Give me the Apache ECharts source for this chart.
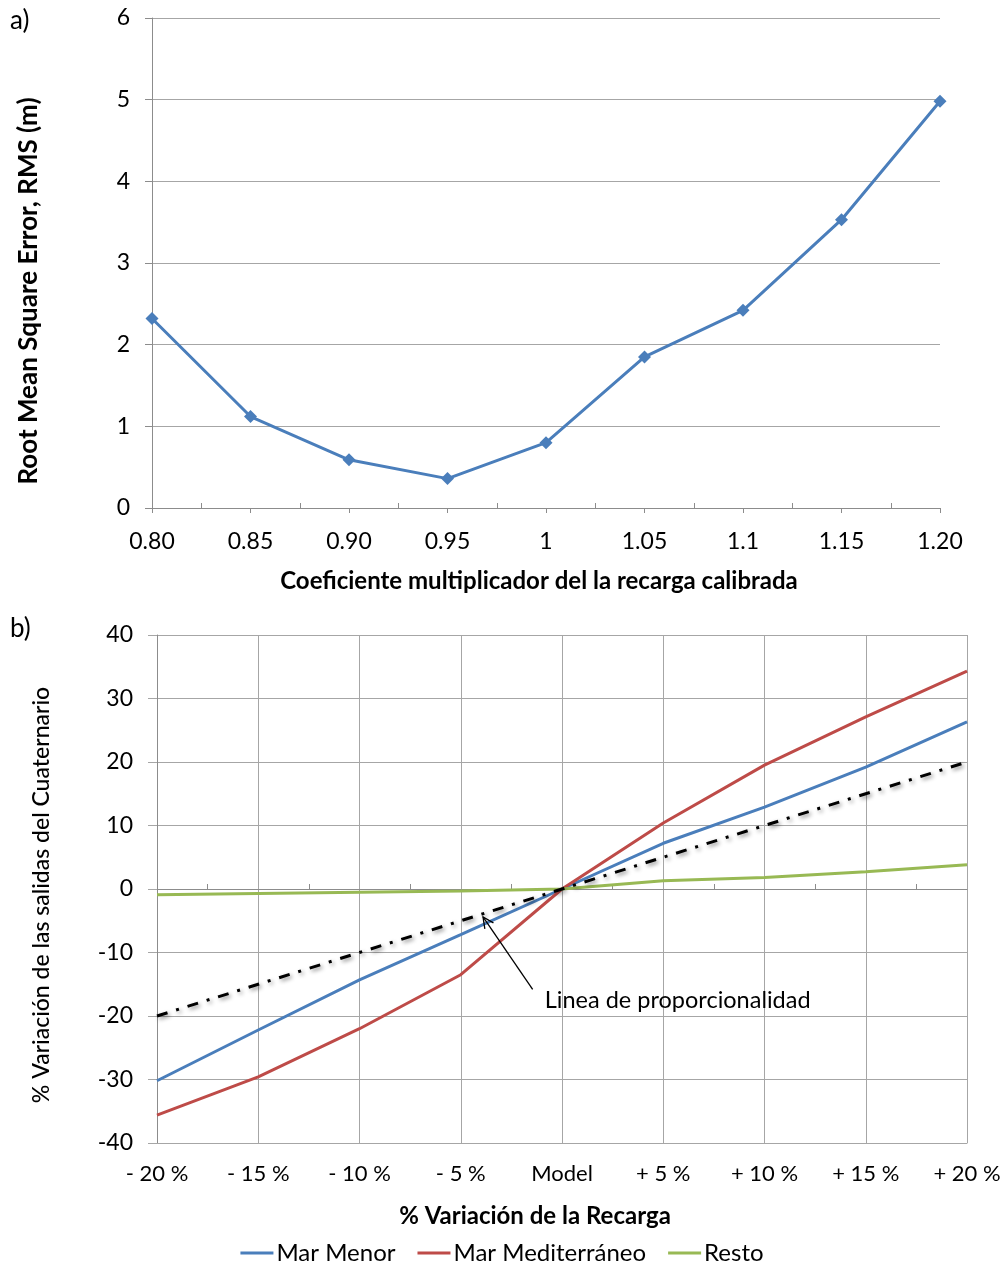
<!DOCTYPE html>
<html><head><meta charset="utf-8">
<script src="https://cdn.jsdelivr.net/npm/echarts@6/dist/echarts.min.js"></script>
<style>html,body{margin:0;padding:0;background:#fff}#c{width:1004px;height:1263px}</style>
</head><body><div id="c"></div>
<script>
// ---- panel a) ----
const coefCategories = ['0.80','0.85','0.90','0.95','1','1.05','1.1','1.15','1.20'];
const rmsValues = [2.32, 1.12, 0.59, 0.36, 0.80, 1.85, 2.42, 3.53, 4.98];
const rmsTicks = [0,1,2,3,4,5,6];
// ---- panel b) ----
const recargaCategories = ['- 20 %','- 15 %','- 10 %','- 5 %','Model','+ 5 %','+ 10 %','+ 15 %','+ 20 %'];
const marMenor = [-30.2, -22.2, -14.3, -7.2, 0, 7.2, 12.9, 19.2, 26.3];
const marMediterraneo = [-35.6, -29.6, -22.0, -13.5, 0, 10.4, 19.5, 27.1, 34.3];
const resto = [-0.9, -0.7, -0.5, -0.3, 0, 1.3, 1.8, 2.7, 3.8];
const proporcionalidad = [-20, -15, -10, -5, 0, 5, 10, 15, 20];
const salidasTicks = [-40,-30,-20,-10,0,10,20,30,40];

const FONT = 'Lato';
const GRID = '#a6a6a6';
const AXIS = '#8c8c8c';
const BLUE = '#4a7ebb', RED = '#be4b48', GREEN = '#98b954';

const chart = echarts.init(document.getElementById('c'), null, {renderer:'canvas'});
const opt = {
  animation:false,
  textStyle:{fontFamily:FONT},
  grid:[
    {left:152, right:64, top:18, height:490, containLabel:false},
    {left:157, right:37, top:635, height:508, containLabel:false}
  ],
  xAxis:[
    {gridIndex:0, type:'category', data:coefCategories, boundaryGap:false,
     axisLine:{lineStyle:{color:AXIS, width:1}},
     axisTick:{show:true, length:5, lineStyle:{color:AXIS}},
     axisLabel:{fontSize:23, color:'#000', margin:22, fontFamily:FONT},
     splitLine:{show:false},
     name:'Coeficiente multiplicador del la recarga calibrada', nameLocation:'middle', nameGap:61,
     nameTextStyle:{fontSize:24, fontWeight:'bold', color:'#000', fontFamily:FONT, padding:[0,14,0,0]}},
    {gridIndex:0, type:'value', min:0, max:coefCategories.length-1, interval:1, position:'bottom',
     axisLine:{show:false}, axisLabel:{show:false}, splitLine:{show:false},
     axisTick:{show:false, inside:true},
     minorTick:{show:true, splitNumber:2, length:5, lineStyle:{color:AXIS}}},
    {gridIndex:1, type:'category', data:recargaCategories, boundaryGap:false,
     axisLine:{onZero:false, lineStyle:{color:GRID}},
     axisTick:{show:false},
     axisLabel:{fontSize:22, color:'#000', margin:20, fontFamily:FONT},
     splitLine:{show:true, lineStyle:{color:GRID}},
     name:'% Variación de la Recarga', nameLocation:'middle', nameGap:61,
     nameTextStyle:{fontSize:24, fontWeight:'bold', color:'#000', fontFamily:FONT, padding:[0,54,0,0]}},
    {gridIndex:1, type:'value', min:0, max:recargaCategories.length-1, interval:1, position:'bottom',
     axisLine:{show:true, onZero:true, lineStyle:{color:AXIS}}, axisLabel:{show:false}, splitLine:{show:false},
     axisTick:{show:false, inside:true},
     minorTick:{show:true, splitNumber:2, length:5, lineStyle:{color:AXIS}}}
  ],
  yAxis:[
    {gridIndex:0, type:'value', min:rmsTicks[0], max:rmsTicks[rmsTicks.length-1], interval:1,
     axisLine:{show:true, lineStyle:{color:AXIS}},
     axisTick:{show:true, length:7, lineStyle:{color:AXIS}},
     axisLabel:{fontSize:23, color:'#000', margin:22, fontFamily:FONT},
     splitLine:{show:true, lineStyle:{color:GRID}},
     name:'Root Mean Square Error, RMS (m)', nameLocation:'middle', nameGap:110,
     nameTextStyle:{fontSize:26, fontWeight:'bold', color:'#000', fontFamily:FONT, padding:[0,56,0,0]}},
    {gridIndex:1, type:'value', min:salidasTicks[0], max:salidasTicks[salidasTicks.length-1], interval:10,
     axisLine:{show:true, lineStyle:{color:AXIS}},
     axisTick:{show:true, length:9, lineStyle:{color:GRID}},
     axisLabel:{fontSize:23, color:'#000', margin:24, fontFamily:FONT},
     splitLine:{show:true, lineStyle:{color:GRID}},
     name:'% Variación de las salidas del Cuaternario', nameLocation:'middle', nameGap:104,
     nameTextStyle:{fontSize:23, fontWeight:'500', color:'#000', fontFamily:FONT, padding:[0,12,0,0]}}
  ],
  legend:{
    data:['Mar Menor','Mar Mediterráneo','Resto'],
    top:1236, left:'center', itemWidth:33, itemHeight:3, itemGap:22, icon:'rect',
    textStyle:{fontSize:24, color:'#000', fontFamily:FONT, padding:[0,0,0,-2]}
  },
  series:[
    {name:'RMS', type:'line', xAxisIndex:0, yAxisIndex:0, data:rmsValues,
     symbol:'diamond', symbolSize:13, lineStyle:{color:BLUE, width:3},
     itemStyle:{color:BLUE}},
    {name:'Mar Menor', type:'line', xAxisIndex:2, yAxisIndex:1, data:marMenor,
     showSymbol:false, lineStyle:{color:BLUE, width:3}, itemStyle:{color:BLUE}},
    {name:'Mar Mediterráneo', type:'line', xAxisIndex:2, yAxisIndex:1, data:marMediterraneo,
     showSymbol:false, lineStyle:{color:RED, width:3}, itemStyle:{color:RED}},
    {name:'Resto', type:'line', xAxisIndex:2, yAxisIndex:1, data:resto,
     showSymbol:false, lineStyle:{color:GREEN, width:3}, itemStyle:{color:GREEN}},
    {name:'Linea de proporcionalidad', type:'line', xAxisIndex:2, yAxisIndex:1, data:proporcionalidad,
     showSymbol:false, z:3,
     lineStyle:{color:'#000', width:3, type:[11,9,3,9], cap:'butt',
       shadowColor:'rgba(0,0,0,0.45)', shadowBlur:4, shadowOffsetX:2, shadowOffsetY:2},
     itemStyle:{color:'#000'}}
  ]
};
chart.setOption(opt);

// Annotation in data coordinates of panel b
const finder = {xAxisIndex:3, yAxisIndex:1};
const head = chart.convertToPixel(finder, [3.22, -4.4]);
const tail = chart.convertToPixel(finder, [3.71, -15.8]);
const txt = chart.convertToPixel(finder, [3.83, -17.6]);
const ang = Math.atan2(tail[1]-head[1], tail[0]-head[0]);
const hl = 12, ha = 0.45;
const p1 = [head[0]+hl*Math.cos(ang+ha), head[1]+hl*Math.sin(ang+ha)];
const p2 = [head[0]+hl*Math.cos(ang-ha), head[1]+hl*Math.sin(ang-ha)];
chart.setOption({
  graphic:[
    {type:'text', left:10, top:8, style:{text:'a)', fontSize:26, fontFamily:FONT, fill:'#000'}},
    {type:'text', left:10, top:616, style:{text:'b)', fontSize:26, fontFamily:FONT, fill:'#000'}},
    {type:'polyline', shape:{points:[head, tail]}, style:{stroke:'#000', lineWidth:1.3, fill:null}, z:10},
    {type:'polyline', shape:{points:[p1, head, p2]}, style:{stroke:'#000', lineWidth:1.3, fill:null}, z:10},
    {type:'text', x:txt[0], y:txt[1], style:{text:'Linea de proporcionalidad', fontSize:23.5, fontFamily:FONT, fill:'#000', verticalAlign:'middle', align:'left'}, z:10}
  ]
});
</script>
</body></html>
